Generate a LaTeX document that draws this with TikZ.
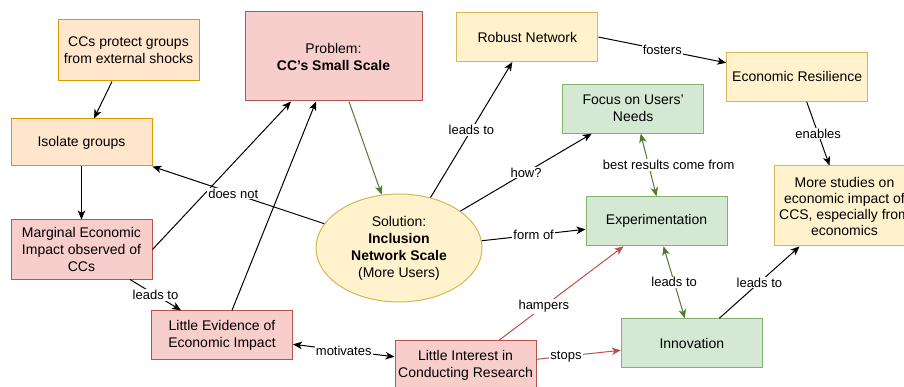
\documentclass[tikz,border=0pt]{standalone}
\usepackage{fontspec}
\setmainfont{Liberation Sans}
\usetikzlibrary{arrows.meta,shapes.geometric}

\definecolor{orfill}{HTML}{FFE6CC}\definecolor{ordraw}{HTML}{D79B00}
\definecolor{rdfill}{HTML}{F8CECC}\definecolor{rddraw}{HTML}{B85450}
\definecolor{ylfill}{HTML}{FFF2CC}\definecolor{yldraw}{HTML}{D6B656}
\definecolor{gnfill}{HTML}{D5E8D4}\definecolor{gndraw}{HTML}{82B366}
\definecolor{gnline}{HTML}{4D7C2F}

\tikzset{
  box/.style={draw, line width=1pt, rectangle, inner sep=0pt, align=center,
    minimum width=141pt, minimum height=49pt,
    font=\fontsize{14}{17}\selectfont},
  orbox/.style={box, fill=orfill, draw=ordraw},
  rdbox/.style={box, fill=rdfill, draw=rddraw},
  ylbox/.style={box, fill=ylfill, draw=yldraw},
  gnbox/.style={box, fill=gnfill, draw=gndraw},
  arr/.style={line width=1pt, -{Stealth[length=9pt,width=7.5pt,inset=2.5pt]}},
  darr/.style={line width=1pt, {Stealth[length=9pt,width=7.5pt,inset=2.5pt]}-{Stealth[length=9pt,width=7.5pt,inset=2.5pt]}},
  lbl/.style={fill=white, text=black, inner sep=1pt, font=\fontsize{13}{15}\selectfont},
}

\begin{document}
\begin{tikzpicture}[x=1pt, y=-1pt]
  \clip (0,0) rectangle (904,387);
  \fill[white] (0,0) rectangle (904,387);

  % concept boxes
  \node[orbox, minimum height=61pt] (shocks) at (128.5,50.5) {CCs protect groups\\from external shocks};
  \node[orbox, minimum height=47pt] (iso) at (81.5,142.5) {Isolate groups};
  \node[rdbox, minimum width=177pt, minimum height=89pt] (prob) at (333.5,56.5) {Problem:\\\textbf{CC's Small Scale}};
  \node[rdbox, minimum height=59pt] (marg) at (81.5,249.5) {Marginal Economic\\Impact observed of\\CCs};
  \node[rdbox] (evid) at (222,335.3) {Little Evidence of\\Economic Impact};
  \node[rdbox] (inter) at (465.5,365.3) {Little Interest in\\Conducting Research};
  \node[ellipse, draw=yldraw, fill=ylfill, line width=1pt, inner sep=0pt,
        minimum width=166pt, minimum height=108pt, align=center,
        font=\fontsize{14}{17}\selectfont] (sol) at (399,248)
        {Solution:\\\textbf{Inclusion}\\\textbf{Network Scale}\\(More Users)};
  \node[ylbox] (robust) at (527.3,37) {Robust Network};
  \node[ylbox] (resil) at (797.2,76.8) {Economic Resilience};
  \node[gnbox] (focus) at (633.2,108.7) {Focus on Users'\\Needs};
  \node[gnbox] (exper) at (656.5,221.3) {Experimentation};
  \node[gnbox] (innov) at (691.8,343.3) {Innovation};
  \node[ylbox, minimum height=80pt, font=\fontsize{14}{16}\selectfont] (stud) at (844.5,206)
        {More studies on\\economic impact of\\CCS, especially from\\economics};

  % connectors
  \draw[arr] ([xshift=-16.5pt]shocks.south) -- ([xshift=12.5pt]iso.north);
  \draw[arr] (iso.south) -- (marg.north);
  \draw[arr] (marg.east) -- ([xshift=-42.5pt]prob.south);
  \draw[arr] ([xshift=10pt]evid.north) -- ([xshift=-17.5pt]prob.south);
  \draw[arr, gnline] ([xshift=15.5pt]prob.south) -- (sol.108);
  \draw[arr] (sol.162) -- node[lbl, pos=0.53] {does not} (iso.south east);
  \draw[arr] ([xshift=48.5pt]marg.south) -- node[lbl] {leads to} ([xshift=-41pt]evid.north);
  \draw[darr] ([yshift=-9pt]evid.east) -- node[lbl] {motivates} ([yshift=8.5pt]inter.west);
  \draw[arr, rddraw] ([yshift=6pt]inter.east) -- node[lbl, pos=0.35] {stops} ([yshift=-7pt]innov.west);
  \draw[arr, rddraw] ([xshift=33.5pt]inter.north) -- node[lbl, pos=0.36] {hampers} ([xshift=-33pt]exper.south);
  \draw[arr] (sol.58) -- node[lbl] {leads to} ([xshift=-15pt]robust.south);
  \draw[arr] (sol.31) -- node[lbl] {how?} ([xshift=-41.5pt]focus.south);
  \draw[arr] (sol.5) -- node[lbl, pos=0.5] {form of} ([yshift=-8pt]exper.west);
  \draw[darr, gnline] ([xshift=7.5pt]focus.south) -- node[lbl, xshift=20pt] {best results come from} (exper.north);
  \draw[darr, gnline] ([xshift=7pt]exper.south) -- node[lbl] {leads to} ([xshift=-7pt]innov.north);
  \draw[arr] ([xshift=27.5pt]innov.north) -- node[lbl] {leads to} ([xshift=-45pt]stud.south);
  \draw[arr] (robust.east) -- node[lbl, pos=0.5] {fosters} ([yshift=14pt]resil.west);
  \draw[arr] ([xshift=9.5pt]resil.south) -- node[lbl, pos=0.5] {enables} ([xshift=-15pt]stud.north);
\end{tikzpicture}
\end{document}
